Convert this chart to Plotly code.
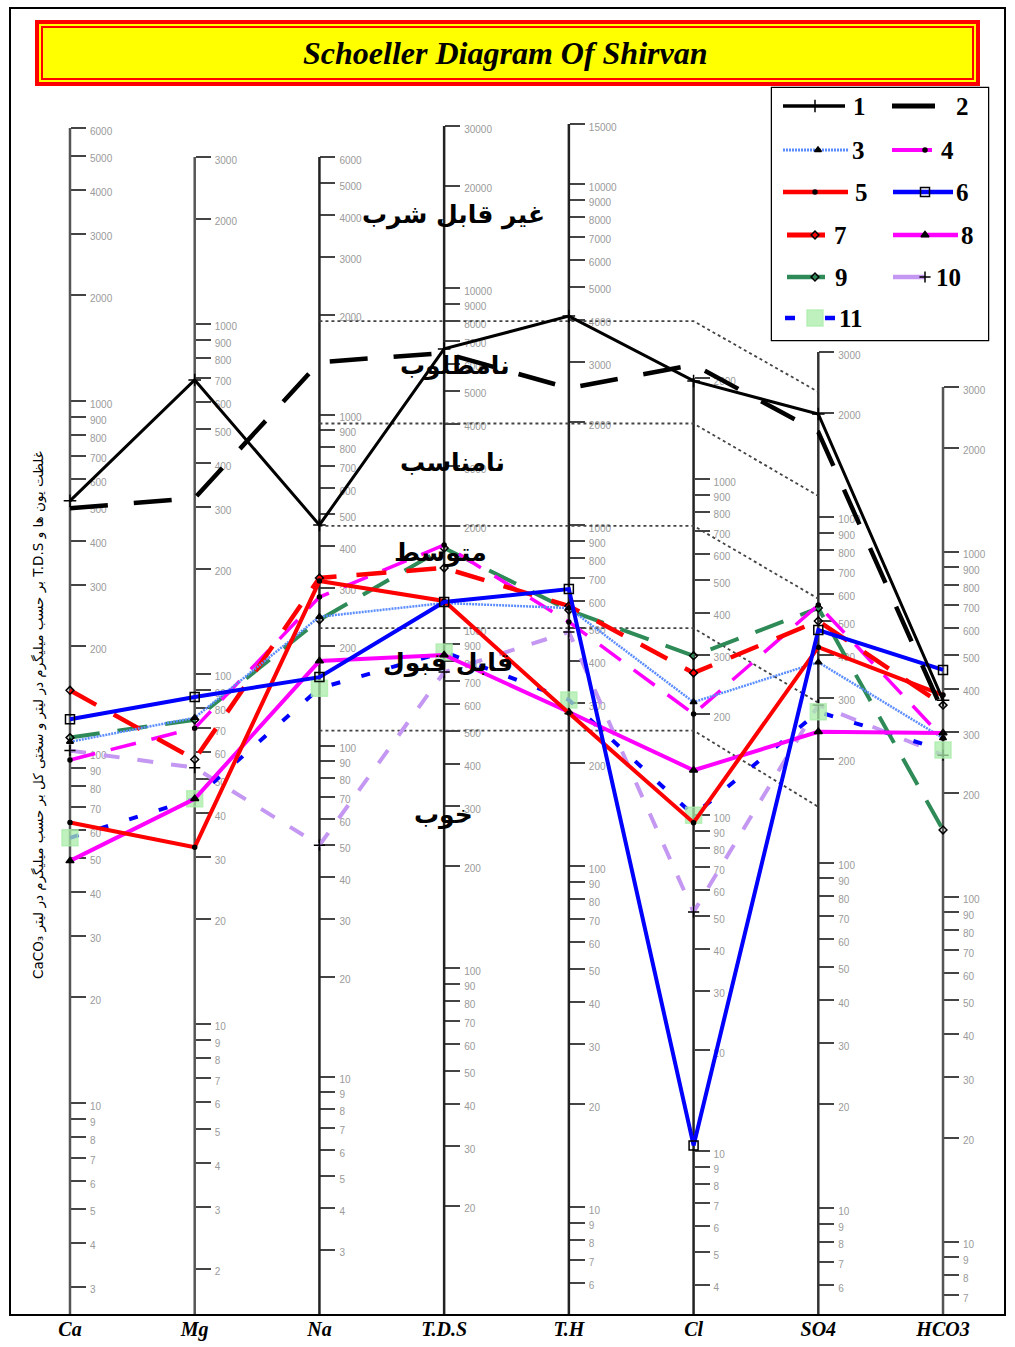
import math
import plotly.graph_objects as go

# ---------------------------------------------------------------- data
PARAMS = ["Ca", "Mg", "Na", "T.D.S", "T.H", "Cl", "SO4", "HCO3"]

# concentrations in mg/L (T.H in mg/L CaCO3), one list per sample
SAMPLE_1 = [520, 692, 464, 6630, 4100, 1960, 1985, 371]
SAMPLE_2 = [495, 318, 1440, 6450, 2520, 2190, 1760, 343]
SAMPLE_3 = [107, 75, 245, 1186, 571, 217, 380, 288]
SAMPLE_4 = [95, 70, 281, 1757, 520, 200, 556, 288]
SAMPLE_5 = [63, 32, 314, 1203, 281, 95, 420, 384]
SAMPLE_6 = [124, 86, 161, 1194, 649, 10.4, 471, 454]
SAMPLE_7 = [150, 57, 321, 1504, 579, 265, 500, 359]
SAMPLE_8 = [49, 44, 180, 834, 283, 136, 239, 298]
SAMPLE_9 = [110, 74, 240, 1721, 563, 298, 545, 156]
SAMPLE_10 = [101, 54, 50, 743, 486, 51.5, 286, 257]
SAMPLE_11 = [57, 44, 149, 851, 307, 100, 273, 266]

# Schoeller drinking-water class limits (T.D.S and SO4, mg/L)
CLASS_TDS = [8000, 4000, 2000, 1000, 500]
CLASS_SO4 = [2300, 1150, 580, 290, 145]
CLASS_NAMES = ["غیر قابل شرب", "نامطلوب", "نامناسب", "متوسط", "قابل قبول", "خوب"]

TITLE = "Schoeller Diagram Of Shirvan"
Y_TITLE = ("غلظت یون ها و T.D.S بر حسب میلیگرم در لیتر و سختی کل "
           "بر حسب میلیگرم در لیتر CaCO₃")

# ---------------------------------------------------------------- geometry
W, H = 1015, 1347
M_L, M_R, M_T, M_B = 10, 10, 8, 32
PLOT_W = W - M_L - M_R
PLOT_H = H - M_T - M_B
BASE = H - M_B                      # baseline of every vertical scale (page px)
X_RANGE = [-0.481, 7.497]

# each vertical scale is logarithmic: top value, page row of its top,
# pixels per decade and lowest labelled tick
AX_TOP = [6000, 3000, 6000, 30000, 15000, 2000, 3000, 3000]
AX_TOP_PX = [128, 157, 157, 126, 124, 378, 352, 387]
AX_DECADE = [351, 350, 331, 340, 341, 336, 345.7, 345]
AX_MIN_TICK = [3, 2, 3, 20, 6, 4, 6, 7]
AX_LINE_COLOR = ["#555", "#555", "#222", "#222", "#222", "#222", "#333", "#555"]


def height_of(i, v):
    """Height above the common baseline of value v on scale i."""
    return (BASE - AX_TOP_PX[i]) - AX_DECADE[i] * (math.log10(AX_TOP[i]) - math.log10(v))


def axis_pos(i):
    return (i - X_RANGE[0]) / (X_RANGE[1] - X_RANGE[0])


def px(x, y):
    """page pixel -> paper fraction"""
    return (x - M_L) / PLOT_W, (BASE - y) / PLOT_H


def ticks_for(i):
    vals = set([AX_TOP[i]])
    for k in range(0, 6):
        for m in range(1, 10):
            v = m * 10 ** k
            if AX_MIN_TICK[i] <= v <= AX_TOP[i]:
                vals.add(v)
    return sorted(vals)


# ---------------------------------------------------------------- styles
STYLE = {
    "1": dict(color="black", width=3, dash="solid", sym="cross-thin", size=9, mcolor="black"),
    "2": dict(color="black", width=4.5, dash="38px,26px", sym=None),
    "3": dict(color="#5b8dff", width=2.5, dash="2px,1px", sym="triangle-up", size=6, mcolor="black"),
    "4": dict(color="#ff00ff", width=3.5, dash="26px,16px", sym="circle", size=4, mcolor="black"),
    "5": dict(color="#ff0000", width=4, dash="solid", sym="circle", size=4, mcolor="black"),
    "6": dict(color="#0000ff", width=4, dash="solid", sym="square-open", size=9, mcolor="black"),
    "7": dict(color="#ff0000", width=4.5, dash="30px,20px", sym="diamond-open", size=6, mcolor="black"),
    "8": dict(color="#ff00ff", width=4, dash="solid", sym="triangle-up", size=7, mcolor="black"),
    "9": dict(color="#2e8b57", width=4, dash="30px,18px", sym="diamond-open", size=6, mcolor="black"),
    "10": dict(color="#c497f2", width=4, dash="16px,18px", sym="cross-thin", size=8, mcolor="black"),
    "11": dict(color="#0000ff", width=4, dash="9px,22px", sym="square", size=16,
               mcolor="rgba(170,236,170,0.75)"),
}
SAMPLES = {
    "1": SAMPLE_1, "2": SAMPLE_2, "3": SAMPLE_3, "4": SAMPLE_4, "5": SAMPLE_5,
    "6": SAMPLE_6, "7": SAMPLE_7, "8": SAMPLE_8, "9": SAMPLE_9, "10": SAMPLE_10,
    "11": SAMPLE_11,
}
DRAW_ORDER = ["10", "11", "9", "4", "7", "3", "8", "5", "6", "2", "1"]

fig = go.Figure()

# vertical scale lines
for i in range(8):
    fig.add_trace(go.Scatter(
        x=[i, i], y=[0, height_of(i, AX_TOP[i])], mode="lines",
        line=dict(color=AX_LINE_COLOR[i], width=2.5),
        showlegend=False, hoverinfo="skip"))

# drinking-water class boundaries: level through Na..Cl, then down to SO4
for t, s in zip(CLASS_TDS, CLASS_SO4):
    yt = height_of(3, t)
    fig.add_trace(go.Scatter(
        x=[2, 5, 6], y=[yt, yt, height_of(6, s)], mode="lines",
        line=dict(color="#444", width=1.8, dash="dot"),
        showlegend=False, hoverinfo="skip"))

# sample profiles
for name in DRAW_ORDER:
    st = STYLE[name]
    vals = SAMPLES[name]
    ys = [height_of(i, v) for i, v in enumerate(vals)]
    mode = "lines+markers" if st["sym"] else "lines"
    marker = {}
    if st["sym"]:
        marker = dict(symbol=st["sym"], size=st["size"], color=st["mcolor"],
                      line=dict(color=st["mcolor"], width=1.5))
    fig.add_trace(go.Scatter(
        x=list(range(8)), y=ys, mode=mode, name=name,
        line=dict(color=st["color"], width=st["width"], dash=st["dash"]),
        marker=marker, showlegend=False, hoverinfo="skip"))

# placeholder traces so each overlaid scale is registered
for i in range(8):
    fig.add_trace(go.Scatter(x=[None], y=[None], yaxis=f"y{i + 2}",
                             showlegend=False, hoverinfo="skip"))

# ---------------------------------------------------------------- legend
LEG_BOX = (772, 88, 988, 340)
LEG_ITEMS = [
    # name, row, line start, line end, marker x, label x
    ("1", 106, 783, 845, 815, 851),
    ("2", 106, 892, 935, None, 954),
    ("3", 150, 783, 848, 818, 850),
    ("4", 150, 892, 932, 925, 939),
    ("5", 192, 783, 848, 815, 853),
    ("6", 192, 893, 953, 925, 954),
    ("7", 235, 787, 825, 815, 832),
    ("8", 235, 893, 958, 925, 959),
    ("9", 277, 787, 825, 815, 833),
    ("10", 277, 893, 925, 925, 934),
    ("11", 318, 785, 835, 815, 837),
]
for name, ry, x0, x1, xm, xl in LEG_ITEMS:
    st = STYLE[name]
    dash = "10px,30px" if name == "11" else ("2px,1px" if name == "3" else "solid")
    fig.add_trace(go.Scatter(
        x=[x0, x1], y=[ry, ry], mode="lines", xaxis="x2", yaxis="y10",
        line=dict(color=st["color"], width=st["width"] + 0.5, dash=dash),
        showlegend=False, hoverinfo="skip"))
    if xm is not None:
        fig.add_trace(go.Scatter(
            x=[xm], y=[ry], mode="markers", xaxis="x2", yaxis="y10",
            marker=dict(symbol=st["sym"], size=st["size"], color=st["mcolor"],
                        line=dict(color=st["mcolor"], width=1.5)),
            showlegend=False, hoverinfo="skip"))
    fig.add_annotation(x=xl, y=ry, xref="x2", yref="y10", text=f"<b>{name}</b>",
                       showarrow=False, xanchor="left", yanchor="middle",
                       font=dict(family="Liberation Serif", size=25, color="black"))

# ---------------------------------------------------------------- layout
layout = dict(
    width=W, height=H, template="none",
    margin=dict(l=M_L, r=M_R, t=M_T, b=M_B),
    paper_bgcolor="white", plot_bgcolor="white",
    showlegend=False,
    xaxis=dict(range=X_RANGE, tickmode="array", tickvals=list(range(8)),
               ticktext=[f"<b><i>{p}</i></b>" for p in PARAMS],
               tickfont=dict(family="Liberation Serif", size=20, color="black"),
               showgrid=False, zeroline=False, showline=False, ticks=""),
    yaxis=dict(range=[0, PLOT_H], visible=False, showgrid=False, zeroline=False),
    xaxis2=dict(domain=[px(LEG_BOX[0], 0)[0], px(LEG_BOX[2], 0)[0]],
                range=[LEG_BOX[0], LEG_BOX[2]], anchor="y10", visible=False),
    yaxis10=dict(domain=[px(0, LEG_BOX[3])[1], px(0, LEG_BOX[1])[1]],
                 range=[LEG_BOX[3], LEG_BOX[1]], anchor="x2", visible=False),
)
for i in range(8):
    lo = math.log10(AX_TOP[i]) - (BASE - AX_TOP_PX[i]) / AX_DECADE[i]
    hi = lo + PLOT_H / AX_DECADE[i]
    tv = ticks_for(i)
    layout[f"yaxis{i + 2}"] = dict(
        type="log", range=[lo, hi], overlaying="y", anchor="free",
        position=axis_pos(i), side="right",
        showline=False, showgrid=False, zeroline=False,
        ticks="outside", ticklen=15, tickwidth=2, tickcolor="#444",
        tickmode="array", tickvals=tv, ticktext=[str(int(v)) for v in tv],
        tickfont=dict(family="Liberation Sans", size=10, color="#9a9a9a"),
        ticklabelstandoff=2, ticklabelshift=3,
        layer="below traces")
fig.update_layout(**layout)

# ---------------------------------------------------------------- shapes
def rect(x0, y0, x1, y1, **kw):
    a, b = px(x0, y1)
    c, d = px(x1, y0)
    fig.add_shape(type="rect", xref="paper", yref="paper", x0=a, y0=b, x1=c, y1=d, **kw)


def label(x, y, text, **kw):
    ax_, ay_ = px(x, y)
    fig.add_annotation(x=ax_, y=ay_, xref="paper", yref="paper", showarrow=False,
                       xanchor="center", yanchor="middle", text=text, **kw)


# title banner
rect(35, 20, 980, 86, fillcolor="#ff0000", line=dict(width=0), layer="below")
rect(39, 24, 976, 82, fillcolor="#ffff00", line=dict(width=0), layer="below")
rect(41, 26, 974, 80, fillcolor="#ff0000", line=dict(width=0), layer="below")
rect(43, 28, 972, 78, fillcolor="#ffff00", line=dict(width=0), layer="below")
label(505, 53, f"<b><i>{TITLE}</i></b>",
      font=dict(family="Liberation Serif", size=32, color="black"))

# legend box
rect(*LEG_BOX, fillcolor="white", line=dict(color="black", width=2.5), layer="below")

# outer frame
fig.add_shape(type="rect", xref="paper", yref="paper", x0=0, y0=0, x1=1, y1=1,
              line=dict(color="black", width=2))

# class names
CLASS_POS = [(453, 215), (455, 366), (452, 463), (440, 553), (448, 663), (443, 815)]
for name_, (cx, cy) in zip(CLASS_NAMES, CLASS_POS):
    label(cx, cy, f"<b>{name_}</b>",
          font=dict(family="DejaVu Sans", size=25, color="black"))

# vertical unit label
label(38, 715, "\u202b" + Y_TITLE + "\u202c", textangle=-90,
      font=dict(family="DejaVu Sans", size=13.5, color="black"))

fig.write_html("out.html")
